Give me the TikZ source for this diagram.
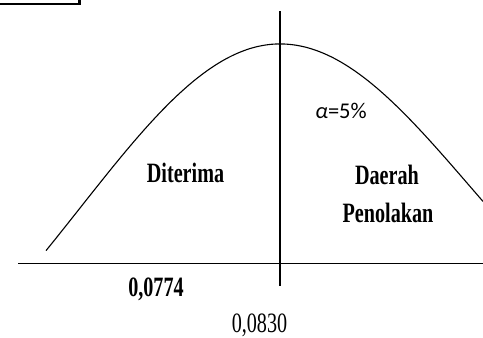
\documentclass[tikz,border=0pt]{standalone}
\usepackage{fontspec}
\setmainfont{Liberation Serif}[FakeStretch=0.72]
\newfontfamily\alphafont{Carlito}
\usetikzlibrary{positioning}

\begin{document}
\begin{tikzpicture}[
    x = 1pt, y = -1pt,
    every node/.style = {inner sep=0pt, anchor=base},
    % Named styles
    axisline/.style = {line width=1.1pt, draw=black},
    curve/.style    = {line width=1.1pt, draw=black, smooth},
    lbl/.style      = {font=\fontsize{28}{34}\selectfont},
    boldlbl/.style  = {font=\fontsize{28}{34}\selectfont\bfseries},
    alphalbl/.style = {font=\fontsize{22.5}{26}\alphafont},
]
\useasboundingbox (0,0) rectangle (483,338);

% ── Dimensions (1 unit = 1 px of the reference) ──────────────────────────────
\def\xc{280}    % centre line
\def\ytop{44}   % top of the curve
\def\yax{263.5} % horizontal axis

% ── Cut-off box in the corner ────────────────────────────────────────────────
\draw[line width=2.2pt] (-10,-20) rectangle (79.5,4);

% ── Axes ─────────────────────────────────────────────────────────────────────
\draw[axisline] (18,\yax) -- (483,\yax);
\draw[axisline] (\xc,11) -- (\xc,286);

% ── Curve (left and right halves) ────────────────────────────────────────────
\draw[curve] plot[domain=-234:0, samples=80]
    ({\xc+\x}, {\ytop+417*(1-exp(-0.5*(\x/200)*(\x/200)))});
\draw[curve] plot[domain=0:203, samples=80]
    ({\xc+\x}, {\ytop+362*(1-exp(-0.5*(\x/190)*(\x/190)))});

% ── Labels ───────────────────────────────────────────────────────────────────
\node[boldlbl] (acc)  at (185.5,182) {Diterima};
\node[boldlbl] (rej1) at (387,184)   {Daerah};
\node[boldlbl] (rej2) at (388,222)   {Penolakan};
\node[alphalbl] (alpha) at (341,118) {\itshape α\upshape=5\%};
\node[boldlbl] (tval) at (156,296.5) {0,0774};
\node[lbl]     (crit) at (259.5,332.5) {0,0830};

\end{tikzpicture}
\end{document}
